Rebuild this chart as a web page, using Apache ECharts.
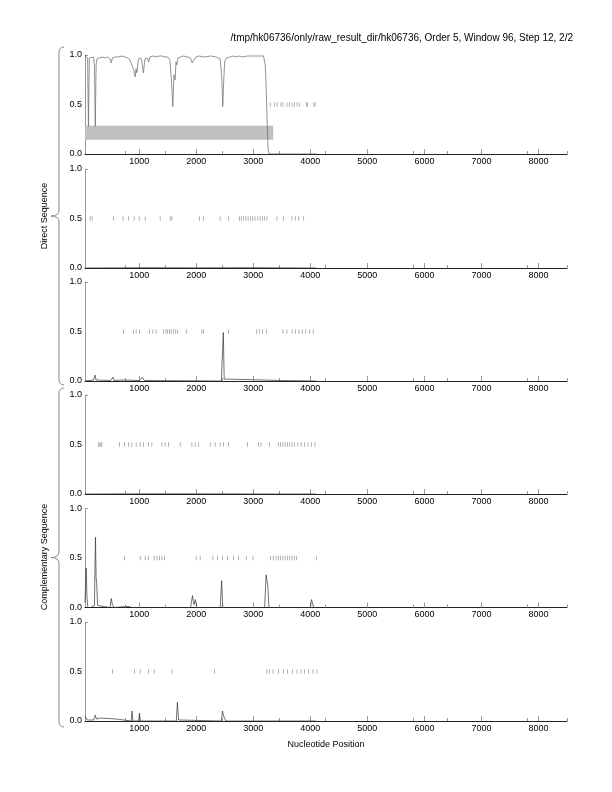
<!DOCTYPE html>
<html>
<head>
<meta charset="utf-8">
<script src="https://cdn.jsdelivr.net/npm/echarts@6/dist/echarts.min.js"></script>
<style>
html,body{margin:0;padding:0;background:#fff;}
#c{width:612px;height:792px;}
</style>
</head>
<body>
<div id="c"></div>
<script>
// ---------- data ----------
const titleText = "/tmp/hk06736/only/raw_result_dir/hk06736, Order 5, Window 96, Step 12, 2/2";
const xLabel = "Nucleotide Position";
const groupLabels = ["Direct Sequence", "Complementary Sequence"];
const xMin = 50, xMax = 8500;
const majorTicks = [1000, 2000, 3000, 4000, 5000, 6000, 7000, 8000];
const minorTicks = [760, 1460, 2450, 3450, 4260, 5800, 6400, 7800, 8500];
const yTicks = [0, 0.5, 1.0];

// band in panel 1 (x range, y range)
const bandX = [50, 3350];
const bandY = [0.145, 0.285];

// line values per panel: [position, value]
const line1 = [[50,1.0],[80,0.99],[95,0.97],[110,0.28],[125,0.97],[150,0.99],[200,0.98],[215,0.9],[230,0.28],[245,0.9],[260,0.96],[300,0.97],[350,0.98],[400,0.97],[450,0.98],[490,0.96],[510,0.92],[530,0.97],[580,0.98],[600,0.96],[630,0.98],[700,0.99],[750,0.98],[800,0.97],[840,0.95],[870,0.9],[900,0.86],[930,0.78],[945,0.86],[960,0.82],[980,0.93],[1000,0.97],[1040,0.96],[1075,0.82],[1100,0.96],[1140,0.97],[1165,0.93],[1190,0.98],[1250,0.99],[1300,0.98],[1350,0.99],[1400,0.99],[1450,0.98],[1500,0.98],[1540,0.95],[1570,0.7],[1590,0.48],[1610,0.8],[1630,0.75],[1645,0.93],[1660,0.9],[1680,0.97],[1720,0.98],[1780,0.99],[1850,0.98],[1900,0.97],[1930,0.92],[1945,0.9],[1960,0.95],[1990,0.98],[2050,0.99],[2150,0.98],[2250,0.99],[2350,0.98],[2420,0.96],[2450,0.75],[2465,0.48],[2480,0.72],[2500,0.94],[2530,0.97],[2600,0.98],[2650,0.99],[2700,0.98],[2750,0.99],[2800,0.98],[2900,0.99],[3000,0.99],[3100,0.99],[3180,0.99],[3210,0.9],[3230,0.6],[3245,0.3],[3260,0.05],[3280,0.0],[4100,0.0]];
const line2 = [[50,0.0],[1000,0.003],[2000,0.002],[3000,0.003],[4100,0.0]];
const line3 = [[50,0.0],[200,0.01],[225,0.06],[245,0.01],[500,0.005],[540,0.04],[560,0.005],[700,0.01],[1000,0.005],[1060,0.035],[1090,0.005],[2440,0.0],[2475,0.49],[2490,0.02],[2510,0.0],[3500,0.005],[4100,0.0]];
const line4 = [[50,0.0],[1000,0.002],[2000,0.002],[3360,0.0],[3380,0.012],[3400,0.0],[4100,0.0]];
const line5 = [[50,0.05],[70,0.40],[85,0.1],[100,0.0],[150,0.0],[215,0.02],[234,0.71],[245,0.3],[255,0.25],[270,0.02],[300,0.01],[490,0.0],[510,0.09],[530,0.03],[560,0.0],[780,0.01],[820,0.01],[860,0.0],[1900,0.0],[1935,0.12],[1960,0.03],[1985,0.08],[2010,0.0],[2420,0.0],[2445,0.27],[2465,0.0],[3200,0.0],[3225,0.33],[3240,0.35],[3255,0.22],[3275,0.0],[4000,0.0],[4020,0.08],[4045,0.07],[4060,0.0],[4100,0.0]];
const line6 = [[50,0.05],[70,0.05],[90,0.01],[200,0.01],[230,0.06],[250,0.02],[280,0.03],[320,0.03],[350,0.01],[600,0.02],[620,0.0],[860,0.0],[875,0.10],[890,0.0],[990,0.0],[1005,0.08],[1020,0.0],[1650,0.0],[1670,0.19],[1690,0.01],[2440,0.0],[2460,0.10],[2480,0.05],[2500,0.06],[2520,0.0],[3100,0.0],[3120,0.01],[3140,0.0],[4100,0.0]];

// rug positions per panel (drawn at 0.5)
const rug1 = [3298,3374,3416,3486,3520,3590,3637,3684,3725,3767,3807,3930,3953,4060,4085];
const rug2 = [140,175,550,715,812,912,1000,1105,1368,1544,1573,2058,2128,2420,2567,2760,2790,2830,2870,2910,2950,2990,3030,3080,3120,3160,3200,3240,3416,3532,3678,3737,3795,3883];
const rug3 = [725,900,947,1005,1180,1240,1298,1430,1470,1500,1530,1560,1600,1640,1670,1825,2100,2128,2567,3060,3110,3160,3230,3520,3590,3680,3740,3800,3860,3920,3990,4050];
const rug4 = [290,310,330,345,655,742,812,871,947,1018,1075,1163,1222,1397,1456,1514,1719,1924,1982,2040,2245,2333,2421,2480,2567,2900,3093,3135,3286,3440,3480,3520,3560,3600,3640,3680,3720,3780,3840,3900,3960,4020,4080];
const rug5 = [742,1018,1105,1163,1263,1310,1356,1397,1444,2000,2070,2292,2374,2462,2550,2655,2742,2877,2994,3300,3350,3400,3440,3480,3520,3560,3600,3640,3680,3720,3760,4105];
const rug6 = [532,918,1018,1163,1263,1573,2322,3240,3286,3345,3444,3532,3602,3690,3766,3836,3895,3970,4047,4117];

const lines = [line1, line2, line3, line4, line5, line6];
const rugs = [rug1, rug2, rug3, rug4, rug5, rug6];

// ---------- layout ----------
const panelTops = [55, 169, 282, 395, 508.5, 622];
const panelH = 99;
const gridLeft = 85, gridRight = 45;
const FONT = "'Liberation Sans', Arial, Helvetica, sans-serif";

const grids = [], xAxes = [], yAxes = [], series = [];
panelTops.forEach((t, i) => {
  grids.push({left: gridLeft, right: gridRight, top: t, height: panelH});
  xAxes.push({
    type: 'value', gridIndex: i, min: xMin, max: xMax,
    axisLine: {show: true, lineStyle: {color: '#222', width: 1}},
    axisTick: {show: true, inside: true, length: 5, customValues: majorTicks, lineStyle: {color: '#999', width: 1}},
    axisLabel: {show: true, customValues: majorTicks, fontSize: 9, color: '#000', margin: 3, fontFamily: FONT,
      formatter: v => String(v)},
    splitLine: {show: false}
  });
  xAxes.push({
    type: 'value', gridIndex: i, min: xMin, max: xMax, position: 'bottom',
    axisLine: {show: false},
    axisTick: {show: true, inside: true, length: 3, customValues: minorTicks, lineStyle: {color: '#999', width: 1}},
    axisLabel: {show: false},
    splitLine: {show: false}
  });
  yAxes.push({
    type: 'value', gridIndex: i, min: 0, max: 1, interval: 0.5,
    axisLine: {show: true, lineStyle: {color: '#999', width: 1}},
    axisTick: {show: true, inside: true, length: 3, customValues: [1], lineStyle: {color: '#999'}},
    axisLabel: {show: true, fontSize: 9, color: '#000', margin: 3, fontFamily: FONT,
      formatter: v => v.toFixed(1)},
    splitLine: {show: false}
  });
  const s = {
    type: 'line', xAxisIndex: 2 * i, yAxisIndex: i,
    data: lines[i], showSymbol: false, symbol: 'none',
    lineStyle: {color: i === 0 ? '#666' : '#333', width: 0.7},
    z: 3, animation: false
  };
  if (i === 0) {
    s.markArea = {
      silent: true,
      itemStyle: {color: '#c0c0c0', opacity: 1},
      data: [[{xAxis: bandX[0], yAxis: bandY[0]}, {xAxis: bandX[1], yAxis: bandY[1]}]]
    };
  }
  series.push(s);
  series.push({
    type: 'scatter', xAxisIndex: 2 * i, yAxisIndex: i,
    data: rugs[i].map(x => [x, 0.5]),
    symbol: 'rect', symbolSize: [0.8, 4.5],
    itemStyle: {color: '#888'}, z: 2, animation: false
  });
});

function brace(x, y0, y1, xc) {
  const ym = (y0 + y1) / 2;
  const st = {stroke: '#888', lineWidth: 1, fill: null};
  return [
    {type: 'bezierCurve', shape: {x1: x + 5, y1: y0, x2: x, y2: y0 + 6, cpx1: x, cpy1: y0}, style: st},
    {type: 'line', shape: {x1: x, y1: y0 + 6, x2: x, y2: ym - 6}, style: st},
    {type: 'bezierCurve', shape: {x1: x, y1: ym - 6, x2: xc, y2: ym, cpx1: x, cpy1: ym}, style: st},
    {type: 'bezierCurve', shape: {x1: xc, y1: ym, x2: x, y2: ym + 6, cpx1: x, cpy1: ym}, style: st},
    {type: 'line', shape: {x1: x, y1: ym + 6, x2: x, y2: y1 - 6}, style: st},
    {type: 'bezierCurve', shape: {x1: x, y1: y1 - 6, x2: x + 5, y2: y1, cpx1: x, cpy1: y1}, style: st}
  ];
}

const graphics = [].concat(
  brace(59, 47, 385, 51),
  brace(59, 388, 727, 51),
  [
    {type: 'text', x: 45, y: 216, rotation: Math.PI / 2,
     style: {text: groupLabels[0], fontSize: 9, fontFamily: FONT, fill: '#000', align: 'center', verticalAlign: 'middle'}},
    {type: 'text', x: 45, y: 557, rotation: Math.PI / 2,
     style: {text: groupLabels[1], fontSize: 9, fontFamily: FONT, fill: '#000', align: 'center', verticalAlign: 'middle'}},
    {type: 'text', x: 326, y: 745,
     style: {text: xLabel, fontSize: 9, fontFamily: FONT, fill: '#000', align: 'center', verticalAlign: 'middle'}}
  ]
);

const chart = echarts.init(document.getElementById('c'), null, {renderer: 'canvas'});
chart.setOption({
  animation: false,
  backgroundColor: '#fff',
  title: {text: titleText, right: 34, top: 28,
    textStyle: {fontSize: 10, fontWeight: 'normal', color: '#000', fontFamily: FONT}},
  grid: grids, xAxis: xAxes, yAxis: yAxes, series: series, graphic: graphics
});
</script>
</body>
</html>
